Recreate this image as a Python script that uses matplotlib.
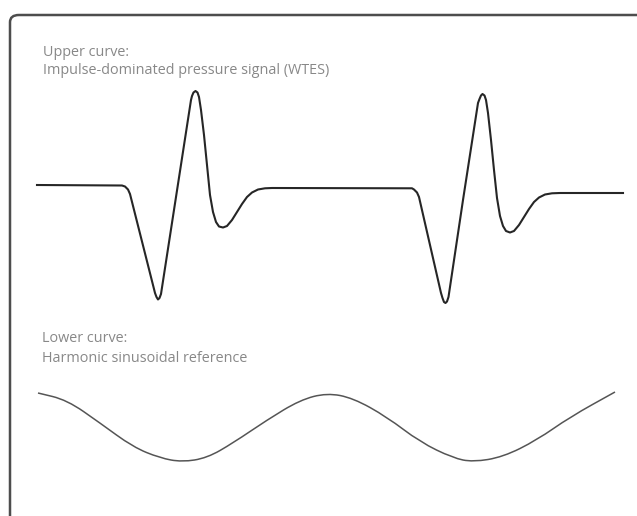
import matplotlib
matplotlib.use("Agg")
import matplotlib.pyplot as plt
from matplotlib.patches import FancyBboxPatch, PathPatch
from matplotlib.path import Path

# ---- data (time and amplitude in arbitrary units) ----
upper_t = [0, 85, 88, 91, 93, 105, 117, 118, 119.5, 121, 122.5, 124, 139, 154, 155, 156.5,
           158.5, 160.5, 162, 164, 167, 170, 173, 176, 179, 182, 186, 190, 195, 200, 205,
           210, 215, 221, 228, 235,
           375, 377, 380, 382, 393, 404, 405.5, 407, 408.5, 410, 411.5, 426, 441, 442.5,
           444, 445.5, 447.5, 449, 451, 454, 457, 460, 463, 466, 469, 473, 477, 482, 487,
           492, 497, 502, 508, 515, 523, 586]
upper_p = [0, -0.5, -1.5, -4.5, -9, -56.5, -104, -108, -112, -114.5, -113, -109, -12, 85, 89,
           92.5, 94, 92.5, 88, 75, 50, 20, -10, -27, -37, -41.5, -42.5, -41, -35, -27, -19,
           -12, -7.5, -4.5, -3.3, -3,
           -3.3, -4.5, -7.5, -12, -60, -108, -113, -117, -118, -116.5, -112, -15, 82, 86,
           89.5, 91, 89.5, 85, 72, 45, 15, -13, -31, -41, -46, -47.5, -46, -40, -32,
           -24, -17, -12.5, -9.5, -8.3, -8, -8]

lower_t = [1, 30, 63, 96, 123, 145, 170, 196, 230, 263, 290, 316, 350, 383, 416, 436,
           466, 500, 533, 578]
lower_p = [34.5, 27.5, 4.5, -19.5, -30.5, -34.5, -30.5, -15.5, 7.5, 27.5, 34.5, 29.5,
           10.5, -14.5, -30.5, -34.5, -29.5, -12.5, 10.5, 35.5]

upper_label = ["Upper curve:", "Impulse-dominated pressure signal (WTES)"]
lower_label = ["Lower curve:", "Harmonic sinusoidal reference"]


def smooth_path(xs, ys):
    """Quadratic-Bezier path through the read points (control points = data points)."""
    pts = list(zip(xs, ys))
    verts = [pts[0]]
    codes = [Path.MOVETO]
    mids = [((pts[i][0] + pts[i + 1][0]) / 2, (pts[i][1] + pts[i + 1][1]) / 2)
            for i in range(len(pts) - 1)]
    verts.append(mids[0]); codes.append(Path.LINETO)
    for i in range(1, len(pts) - 1):
        verts += [pts[i], mids[i]]
        codes += [Path.CURVE3, Path.CURVE3]
    verts.append(pts[-1]); codes.append(Path.LINETO)
    return Path(verts, codes)


W, H = 637, 516
fig = plt.figure(figsize=(W / 100, H / 100), dpi=100)
fig.patch.set_facecolor("white")

# frame (extends past right and bottom edges)
frame = FancyBboxPatch((10 / W, -0.2), 1.2, (1 - 15 / H) + 0.2,
                       boxstyle="round,pad=0,rounding_size=0.014",
                       transform=fig.transFigure, facecolor="none",
                       edgecolor="#4d4d4d", linewidth=1.8, zorder=1)
fig.patches.append(frame)

ax = fig.add_axes([0, 0, 1, 1])
ax.set_xlim(-37, W - 37)
ax.set_ylim(185 - H, 185)
ax.axis("off")

lower_offset = -242.5
ax.plot(upper_t, upper_p, color="#262626", linewidth=1.5, solid_joinstyle="round")
lower_path = smooth_path(lower_t, [v + lower_offset for v in lower_p])
ax.add_patch(PathPatch(lower_path, facecolor="none", edgecolor="#555555", linewidth=1.1,
                       transform=ax.transData))

txt_kw = dict(fontsize=10.4, color="#888888", family=["Open Sans", "DejaVu Sans"],
              va="center", ha="left")
fig.text(43 / W, 1 - 52 / H, upper_label[0], **txt_kw)
fig.text(43 / W, 1 - 70 / H, upper_label[1], **txt_kw)
fig.text(42 / W, 1 - 338 / H, lower_label[0], **txt_kw)
fig.text(42 / W, 1 - 358 / H, lower_label[1], **txt_kw)

fig.savefig("out.png", dpi=100, facecolor="white")
